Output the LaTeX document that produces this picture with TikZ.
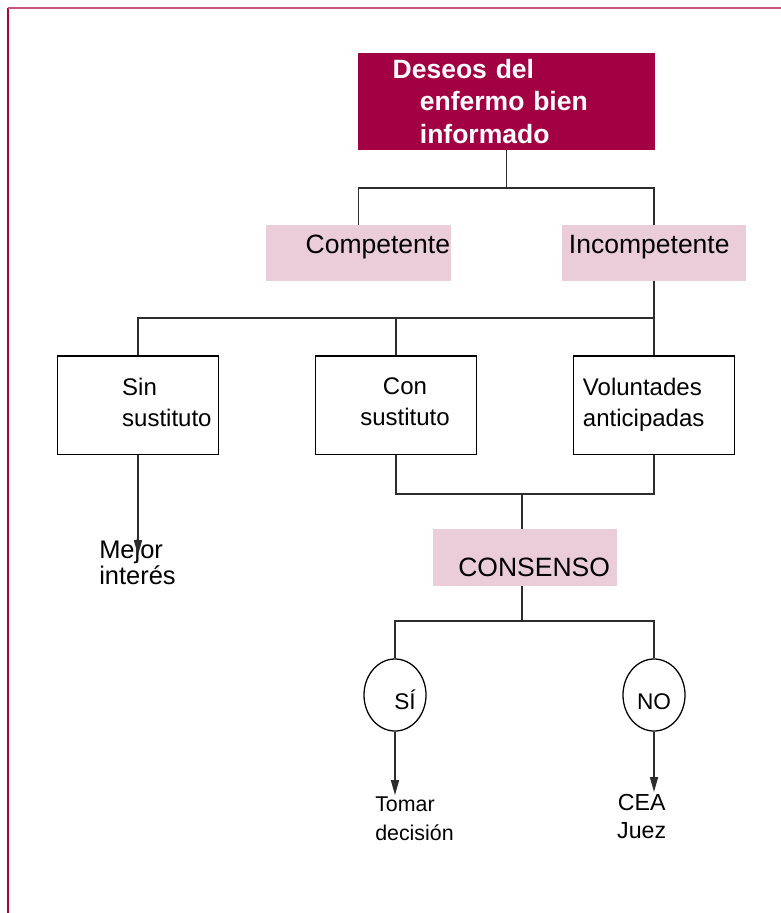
\documentclass[tikz,border=0pt]{standalone}
\usepackage{fontspec}
\setmainfont{Liberation Sans}
\usepackage{tikz}
\usetikzlibrary{arrows.meta, positioning, calc, shapes.geometric}
\definecolor{crimson}{RGB}{163,0,68}
\definecolor{rosa}{RGB}{235,204,217}
\definecolor{frameleft}{RGB}{170,0,64}
\definecolor{frametop}{RGB}{205,85,125}
\definecolor{linegray}{RGB}{45,45,45}

\begin{document}
\begin{tikzpicture}[x=0.025cm, y=-0.025cm,
    titlebox/.style={rectangle, fill=crimson, text=white, font=\bfseries\fontsize{18.85}{23.1}\selectfont, align=left, text width=5.69cm, inner xsep=0.8675cm, inner ysep=0pt, minimum width=7.425cm, minimum height=2.425cm},
    pinkbox/.style={rectangle, fill=rosa, font=\fontsize{18.85}{22}\selectfont, inner xsep=0.025cm, inner ysep=0pt, minimum height=1.4cm, text height=0.5cm, text depth=0.5cm},
    plainbox/.style={rectangle, draw=black, line width=0.9pt, font=\fontsize{17.07}{22.05}\selectfont, inner xsep=0.025cm, text width=3.99cm, text depth=0.93cm, minimum width=4.04cm, minimum height=2.46cm},
    decision/.style={ellipse, draw=black, line width=0.9pt, font=\fontsize{16.1}{19}\selectfont, inner sep=0pt, minimum width=1.55cm, minimum height=1.8cm, text height=0.7cm, text depth=0pt},
    outtxt/.style={inner sep=0pt, align=left},
    link/.style={draw=linegray, line width=0.9pt},
    arrow/.style={link, -{Triangle[length=10.5pt, width=5.7pt]}}]
        \useasboundingbox (0,0) rectangle (781,913);
        \draw[frameleft, line width=1.4pt] (8,913) -- (8,8);
        \draw[frametop, line width=1.4pt] (8,8) -- (781,8);

        \node[titlebox] (title) at (506.5,101.5) {Deseos del\\\hspace*{0.68cm}enfermo bien\\\hspace*{0.68cm}informado};
        \node[pinkbox, minimum width=4.625cm, text width=4.575cm, align=right] (comp) at (358.5,253) {Competente};
        \node[pinkbox, minimum width=4.62cm, text width=4.57cm, align=left] (incomp) at (654,253) {\hspace*{0.16cm}Incompetente};

        \node[plainbox, align=left] (sin) at (138,405.2) {\hspace*{1.6cm}Sin\\\hspace*{1.6cm}sustituto};
        \node[plainbox, align=center] (con) at (396,405.2) {\hspace*{0.45cm}Con\\\hspace*{0.45cm}sustituto};
        \node[plainbox, align=left] (vol) at (654,405.2) {\hspace*{0.22cm}Voluntades\\\hspace*{0.22cm}anticipadas};

        \node[pinkbox, minimum width=4.615cm, minimum height=1.42cm, text width=4.565cm, align=left, text height=0.97cm, text depth=0pt] (consenso) at (525,557.3) {\hspace*{0.615cm}CONSENSO};

        \node[decision] (si) at (395,695) {\hspace*{0.5cm}SÍ};
        \node[decision] (no) at (654,695) {NO};

        \node[outtxt, anchor=north west, font=\fontsize{18.1}{18.5}\selectfont] (mejor) at (99,540) {Mejor\\interés};
        \node[outtxt, anchor=north west, font=\fontsize{15.2}{20.2}\selectfont] (tomar) at (375,797) {Tomar\\decisión};
        \node[outtxt, align=center, anchor=north, font=\fontsize{16.5}{20.2}\selectfont] (cea) at (641.7,794) {CEA\\Juez};

        \coordinate (j1) at (506.5,188);
        \coordinate (j2) at (654,318);
        \coordinate (j3) at (522,494);
        \coordinate (j4) at (522,621);
        \coordinate (tipA) at (138,555);
        \coordinate (tipB) at (395,795);
        \coordinate (tipC) at (654,792);

        \draw[link] (title.south) -- (j1);
        \draw[link] (comp.north) |- (j1) -| (incomp.north);
        \draw[link] (incomp.south) -- (vol.north);
        \draw[link] (sin.north) |- (j2);
        \draw[link] (con.north) -- (con.north |- j2);
        \draw[arrow] (sin.south) -- (tipA);
        \draw[link] (con.south) |- (j3);
        \draw[link] (vol.south) |- (j3);
        \draw[link] (j3) -- (j3 |- consenso.north);
        \draw[link] (j3 |- consenso.south) -- (j4);
        \draw[link] (si.north) |- (j4);
        \draw[link] (no.north) |- (j4);
        \draw[arrow] (si.south) -- (tipB);
        \draw[arrow] (no.south) -- (tipC);
    \end{tikzpicture}
\end{document}
